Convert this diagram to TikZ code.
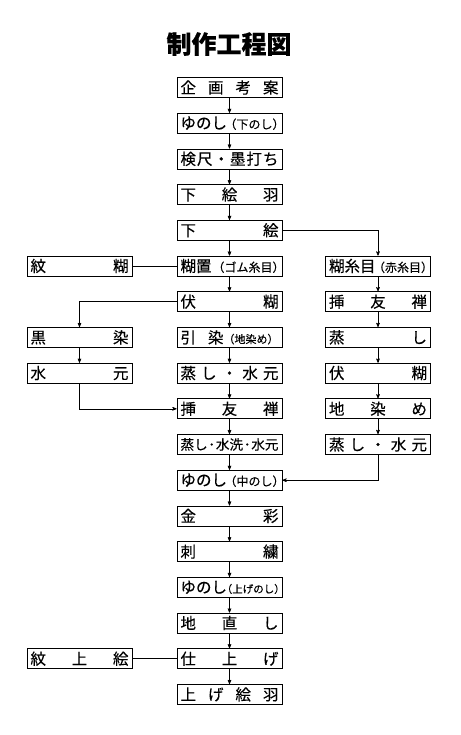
\documentclass[tikz,border=0pt]{standalone}
\usepackage{fontspec}
\setmainfont{Noto Sans CJK JP}[FakeBold=0.3]
\newfontfamily\smallcjk{Noto Sans CJK JP}[RawFeature=+halt,FakeBold=0.3]
\usetikzlibrary{arrows}

\newcommand{\spread}[1]{\hbox to 98pt{#1}}
\newcommand{\sm}[1]{{\smallcjk\fontsize{12}{12}\selectfont #1}}

\tikzset{
  procbox/.style={draw, fill=white, line width=0.7pt, minimum width=105pt,
    minimum height=20pt, inner xsep=3.5pt, inner ysep=0pt,
    font=\fontsize{15.5}{15.5}\selectfont},
  flow/.style={->, >=stealth', line width=0.6pt},
  link/.style={line width=0.6pt}
}

\begin{document}
\begin{tikzpicture}[x=1pt,y=-1pt]
      \useasboundingbox (0,0) rectangle (460,735);

      % Title
      \node (title) at (229,44) {\fontsize{25}{25}\selectfont\bfseries 制作工程図};

      % Main column
      \node [procbox] (plan)     at (229.5,87.5)  {\spread{企\hfill 画\hfill 考\hfill 案}};
      \node [procbox] (yunoshiA) at (229.5,123.2) {\spread{ゆのし\hfill\sm{（下のし）}}};
      \node [procbox] (kenjaku)  at (229.5,158.9) {\spread{検\hfill 尺\hfill ・\hfill 墨\hfill 打\hfill ち}};
      \node [procbox] (shitaeba) at (229.5,194.6) {\spread{下\hfill 絵\hfill 羽}};
      \node [procbox] (shitae)   at (229.5,230.3) {\spread{下\hfill 絵}};
      \node [procbox] (norioki)  at (229.5,266.0) {\spread{糊置\hfill\sm{（ゴム糸目）}}};
      \node [procbox] (fusenori) at (229.5,301.7) {\spread{伏\hfill 糊}};
      \node [procbox] (hikizome) at (229.5,337.4) {\spread{引\hfill 染{\fontsize{11}{11}\selectfont （地染め）}}};
      \node [procbox] (mushiA)   at (229.5,373.1) {\spread{蒸\hfill し\hfill ・\hfill 水\hfill 元}};
      \node [procbox] (yuzen)    at (229.5,408.8) {\spread{挿\hfill 友\hfill 禅}};
      \node [procbox] (mushiB)   at (229.5,444.5) {\spread{\fontsize{13.6}{13.6}\selectfont 蒸し\hfill ･\hfill 水洗\hfill ･\hfill 水元}};
      \node [procbox] (yunoshiB) at (229.5,480.2) {\spread{ゆのし\hfill\sm{（中のし）}}};
      \node [procbox] (kinsai)   at (229.5,515.9) {\spread{金\hfill 彩}};
      \node [procbox] (shishu)   at (229.5,551.6) {\spread{刺\hfill 繍}};
      \node [procbox] (yunoshiC) at (229.5,587.3) {\spread{ゆのし\hfill{\smallcjk\fontsize{10.5}{10.5}\selectfont （上げのし）}}};
      \node [procbox] (jinaoshi) at (229.5,623.0) {\spread{地\hfill 直\hfill し}};
      \node [procbox] (shiage)   at (229.5,658.7) {\spread{仕\hfill 上\hfill げ}};
      \node [procbox] (ageeba)   at (229.5,694.4) {\spread{上\hfill げ\hfill 絵\hfill 羽}};

      % Right column
      \node [procbox] (noriito)   at (378,266.0) {\spread{糊糸目\hfill\sm{（赤糸目）}}};
      \node [procbox] (yuzenR)    at (378,301.7) {\spread{挿\hfill 友\hfill 禅}};
      \node [procbox] (mushiR)    at (378,337.4) {\spread{蒸\hfill し}};
      \node [procbox] (fusenoriR) at (378,373.1) {\spread{伏\hfill 糊}};
      \node [procbox] (jizome)    at (378,408.8) {\spread{地\hfill 染\hfill め}};
      \node [procbox] (mushiR2)   at (378,444.5) {\spread{蒸\hfill し\hfill ・\hfill 水\hfill 元}};

      % Left column
      \node [procbox] (monnori)   at (79.5,266.0) {\spread{紋\hfill 糊}};
      \node [procbox] (kurozome)  at (79.5,337.4) {\spread{黒\hfill 染}};
      \node [procbox] (mizumotoL) at (79.5,373.1) {\spread{水\hfill 元}};
      \node [procbox] (monuwae)   at (79.5,658.7) {\spread{紋\hfill 上\hfill 絵}};

      % Edges, main column
      \draw [flow] (plan) -- (yunoshiA);
      \draw [flow] (yunoshiA) -- (kenjaku);
      \draw [flow] (kenjaku) -- (shitaeba);
      \draw [flow] (shitaeba) -- (shitae);
      \draw [flow] (shitae) -- (norioki);
      \draw [flow] (norioki) -- (fusenori);
      \draw [flow] (fusenori) -- (hikizome);
      \draw [flow] (hikizome) -- (mushiA);
      \draw [flow] (mushiA) -- (yuzen);
      \draw [flow] (yuzen) -- (mushiB);
      \draw [flow] (mushiB) -- (yunoshiB);
      \draw [flow] (yunoshiB) -- (kinsai);
      \draw [flow] (kinsai) -- (shishu);
      \draw [flow] (shishu) -- (yunoshiC);
      \draw [flow] (yunoshiC) -- (jinaoshi);
      \draw [flow] (jinaoshi) -- (shiage);
      \draw [flow] (shiage) -- (ageeba);

      % Edges, right column
      \draw [flow] (shitae.east) -| (noriito.north);
      \draw [flow] (noriito) -- (yuzenR);
      \draw [flow] (yuzenR) -- (mushiR);
      \draw [flow] (mushiR) -- (fusenoriR);
      \draw [flow] (fusenoriR) -- (jizome);
      \draw [flow] (jizome) -- (mushiR2);
      \draw [flow] (mushiR2.south) |- (yunoshiB.east);

      % Edges, left column
      \draw [link] (monnori) -- (norioki);
      \draw [flow] (fusenori.west) -| (kurozome.north);
      \draw [flow] (kurozome) -- (mizumotoL);
      \draw [flow] (mizumotoL.south) |- (yuzen.west);
      \draw [link] (monuwae) -- (shiage);
\end{tikzpicture}
\end{document}
